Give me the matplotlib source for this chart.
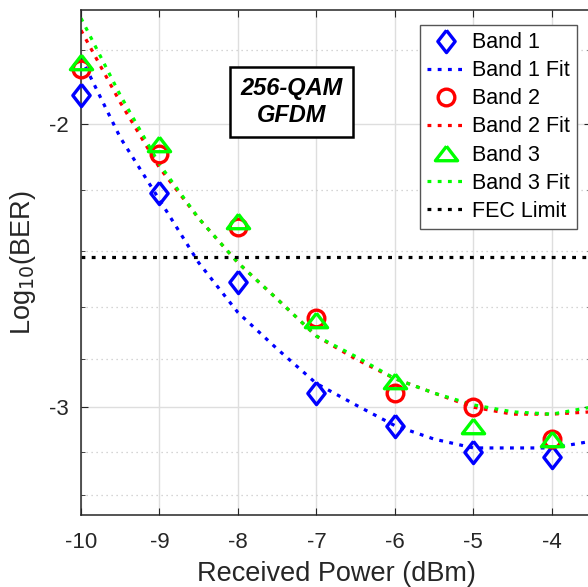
import matplotlib
matplotlib.use("Agg")
import matplotlib.pyplot as plt
import numpy as np

plt.rcParams['font.family'] = ['Liberation Sans', 'DejaVu Sans']

# measured points, log10(BER)
power = [-10, -9, -8, -7, -6, -5, -4]
band1 = [-1.92, -2.21, -2.51, -2.94, -3.08, -3.20, -3.22]
band2 = [-1.85, -2.09, -2.32, -2.64, -2.94, -3.00, -3.14]
band3 = [-1.83, -2.06, -2.30, -2.65, -2.89, -3.08, -3.14]

# fit curves
power_fit = [-10, -9.5, -9, -8.5, -8, -7.5, -7, -6.5, -6, -5.5, -5, -4.5, -4, -3.5]
band1_fit = [-1.82, -2.04, -2.23, -2.44, -2.62, -2.76, -2.90, -2.99, -3.08, -3.14, -3.18, -3.18, -3.18, -3.15]
band2_fit = [-1.75, -1.94, -2.13, -2.29, -2.44, -2.57, -2.71, -2.80, -2.88, -2.94, -3.00, -3.03, -3.03, -3.02]
band3_fit = [-1.72, -1.92, -2.12, -2.29, -2.44, -2.57, -2.71, -2.79, -2.88, -2.94, -2.99, -3.02, -3.03, -3.00]

fec_limit = -2.42

y_major = [-3, -2]
y_minor = [-3.4, -3.2, -2.8, -2.6, -2.4, -2.2, -1.8]


def fwd(y):
    return -np.log10(np.clip(-np.asarray(y, dtype=float), 1e-6, None))


def inv(f):
    return -10.0 ** (-np.asarray(f, dtype=float))


diamond = [(0, 1), (0.78, 0), (0, -1), (-0.78, 0), (0, 1)]
triangle = [(0, 0.65), (1, -0.65), (-1, -0.65), (0, 0.65)]

fig = plt.figure(figsize=(5.88, 5.87), dpi=100)
W, H = 588, 587
ax = fig.add_axes([81 / W, 1 - 515 / H, 510 / W, 505 / H])
ax.set_yscale('function', functions=(fwd, inv))

lw = 2.3
dots = (0, (1.2, 2.0))
mew = 2.4

ax.plot(power, band1, linestyle='none', marker=diamond, ms=16, mfc='none',
        mec='b', mew=mew, label='Band 1', clip_on=False, zorder=3)
ax.plot(power_fit, band1_fit, color='b', lw=lw, linestyle=dots, label='Band 1 Fit')
ax.plot(power, band2, linestyle='none', marker='o', ms=12, mfc='none',
        mec='r', mew=mew, label='Band 2', clip_on=False, zorder=3)
ax.plot(power_fit, band2_fit, color='r', lw=lw, linestyle=dots, label='Band 2 Fit')
ax.plot(power, band3, linestyle='none', marker=triangle, ms=16, mfc='none',
        mec=(0, 1, 0), mew=mew, label='Band 3', clip_on=False, zorder=3)
ax.plot(power_fit, band3_fit, color=(0, 1, 0), lw=lw, linestyle=dots, label='Band 3 Fit')
ax.axhline(fec_limit, color='k', lw=lw, linestyle=dots, label='FEC Limit')

ax.set_xlim(-10, -3.5)
ax.set_ylim(-3.5, -1.7)
ax.set_xticks(power)
ax.set_xticklabels([str(p) for p in power])
ax.set_yticks(y_major)
ax.set_yticklabels([str(v) for v in y_major])
ax.set_yticks(y_minor, minor=True)
ax.yaxis.set_minor_formatter(matplotlib.ticker.NullFormatter())

ax.grid(True, which='major', color='#dedede', lw=1, linestyle='-')
ax.grid(True, which='minor', axis='y', color='#c8c8c8', lw=0.9, linestyle=(0, (1, 3)))
ax.set_axisbelow(True)

axcol = '#262626'
for s in ax.spines.values():
    s.set_color(axcol)
    s.set_linewidth(1.1)
ax.tick_params(which='both', direction='in', top=True, right=True, colors=axcol,
               labelsize=16)
ax.tick_params(axis='x', pad=12)
ax.tick_params(axis='y', pad=9)
ax.tick_params(which='major', length=5)
ax.tick_params(which='minor', length=3)

ax.set_xlabel('Received Power (dBm)', fontsize=19.5, color=axcol)
ax.set_ylabel('Log$_{10}$(BER)', fontsize=19.5, color=axcol)
ax.xaxis.set_label_coords(0.5, -0.092)
ax.yaxis.set_label_coords(-0.085, 0.5)

ax.text(0.4127, 0.818, '256-QAM\nGFDM', transform=ax.transAxes, ha='center', va='center',
        fontsize=17, fontweight='bold', fontstyle='italic', linespacing=1.2,
        bbox=dict(boxstyle='square,pad=0.42', fc='white', ec='k', lw=1.8))

leg = ax.legend(loc='upper right', bbox_to_anchor=(577 / W, 1 - 25 / H),
                bbox_transform=fig.transFigure, borderaxespad=0, fontsize=15.5,
                handlelength=1.75, handletextpad=0.35, labelspacing=0.33, borderpad=0.33,
                fancybox=False, framealpha=1, edgecolor='#555555')
leg.get_frame().set_linewidth(1.0)

fig.savefig('out.png', dpi=100)
